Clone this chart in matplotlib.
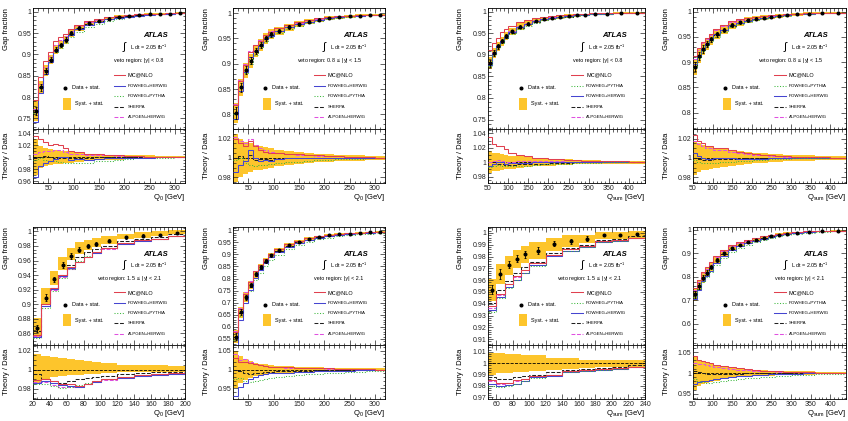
import numpy as np
import matplotlib
matplotlib.use("Agg")
import matplotlib.pyplot as plt
from matplotlib.patches import Rectangle
from matplotlib.ticker import MultipleLocator, AutoMinorLocator, FuncFormatter

plt.rcParams['font.family'] = ['Liberation Sans', 'DejaVu Sans']
plt.rcParams['mathtext.fontset'] = 'custom'
plt.rcParams['mathtext.rm'] = 'Liberation Sans'
plt.rcParams['mathtext.it'] = 'Liberation Sans:italic'

# ---- bin edges ----
q0_edges = [20, 30, 40, 50, 60, 70, 80, 90, 100, 120, 140, 160, 180, 200, 220, 240, 260, 280, 300, 320]
q0_fwd_edges = [20, 30, 40, 50, 60, 70, 80, 90, 100, 120, 140, 160, 180, 200]
qsum_edges = [50, 60, 70, 80, 90, 100, 120, 140, 160, 180, 200, 220, 240, 260, 280, 300, 330, 360, 400, 440]
qsum_fwd_edges = [50, 60, 70, 80, 90, 100, 120, 140, 160, 180, 200, 220, 240]

# ---- Q0, |y| < 0.8 ----
q0_cen_data = [0.767, 0.823, 0.862, 0.888, 0.911, 0.922, 0.935, 0.950, 0.962, 0.973, 0.979, 0.984, 0.988, 0.990, 0.992, 0.994, 0.995, 0.996, 0.997]
q0_cen_stat = [0.010, 0.008, 0.007, 0.006, 0.006, 0.005, 0.005, 0.005, 0.004, 0.003, 0.003, 0.003, 0.002, 0.002, 0.002, 0.002, 0.002, 0.001, 0.001]
q0_cen_syst = [0.030, 0.018, 0.015, 0.013, 0.012, 0.011, 0.010, 0.009, 0.008, 0.006, 0.005, 0.004, 0.004, 0.003, 0.003, 0.003, 0.002, 0.002, 0.002]
q0_cen_mcnlo = [1.035, 1.030, 1.025, 1.020, 1.022, 1.020, 1.015, 1.010, 1.008, 1.006, 1.005, 1.004, 1.003, 1.002, 1.002, 1.001, 1.001, 1.001, 1.000]
q0_cen_powher = [0.967, 0.985, 0.990, 0.993, 0.997, 1.000, 1.000, 0.996, 0.997, 0.996, 0.997, 0.998, 0.998, 0.999, 0.999, 0.999, 1.000, 1.000, 1.000]
q0_cen_powpyt = [0.995, 0.998, 0.996, 0.994, 0.993, 0.992, 0.991, 0.990, 0.990, 0.991, 0.993, 0.994, 0.996, 0.997, 0.998, 0.998, 0.999, 0.999, 1.000]
q0_cen_sherpa = [0.998, 1.000, 1.002, 1.000, 0.999, 0.999, 0.998, 0.998, 0.999, 0.999, 1.000, 1.000, 1.000, 1.000, 1.000, 1.000, 1.000, 1.000, 1.000]
q0_cen_alpgen = [1.005, 1.008, 1.010, 1.010, 1.012, 1.012, 1.008, 1.006, 1.005, 1.004, 1.003, 1.003, 1.002, 1.002, 1.001, 1.001, 1.001, 1.000, 1.000]

# ---- Q0, 0.8 <= |y| < 1.5 ----
q0_mid_data = [0.803, 0.853, 0.887, 0.906, 0.925, 0.937, 0.950, 0.958, 0.965, 0.972, 0.978, 0.983, 0.987, 0.990, 0.992, 0.994, 0.995, 0.996, 0.997]
q0_mid_stat = [0.012, 0.009, 0.008, 0.007, 0.006, 0.006, 0.005, 0.005, 0.004, 0.004, 0.003, 0.003, 0.003, 0.002, 0.002, 0.002, 0.002, 0.002, 0.001]
q0_mid_syst = [0.025, 0.020, 0.017, 0.015, 0.013, 0.012, 0.011, 0.010, 0.008, 0.007, 0.006, 0.005, 0.004, 0.004, 0.003, 0.003, 0.003, 0.002, 0.002]
q0_mid_mcnlo = [1.020, 1.015, 1.012, 1.018, 1.012, 1.008, 1.006, 1.005, 1.005, 1.004, 1.004, 1.003, 1.003, 1.002, 1.002, 1.001, 1.001, 1.001, 1.000]
q0_mid_powher = [0.985, 0.993, 0.997, 1.008, 1.000, 0.997, 0.998, 0.997, 0.999, 1.000, 1.000, 1.000, 1.000, 1.000, 1.000, 1.000, 1.000, 1.000, 1.000]
q0_mid_powpyt = [0.998, 1.000, 0.995, 0.993, 0.992, 0.993, 0.993, 0.994, 0.995, 0.996, 0.996, 0.997, 0.998, 0.998, 0.999, 0.999, 0.999, 1.000, 1.000]
q0_mid_sherpa = [1.000, 1.002, 1.000, 1.003, 0.998, 0.999, 0.999, 0.998, 0.999, 1.000, 1.000, 1.000, 1.000, 1.000, 1.000, 1.000, 1.000, 1.000, 1.000]
q0_mid_alpgen = [1.022, 1.018, 1.015, 1.020, 1.013, 1.010, 1.008, 1.006, 1.005, 1.004, 1.003, 1.003, 1.002, 1.002, 1.002, 1.001, 1.001, 1.001, 1.000]

# ---- Qsum, |y| < 0.8 ----
qsum_cen_data = [0.881, 0.904, 0.920, 0.932, 0.944, 0.955, 0.966, 0.973, 0.979, 0.983, 0.986, 0.988, 0.990, 0.992, 0.993, 0.995, 0.996, 0.997, 0.998]
qsum_cen_stat = [0.008, 0.007, 0.006, 0.005, 0.005, 0.004, 0.004, 0.003, 0.003, 0.003, 0.002, 0.002, 0.002, 0.002, 0.002, 0.001, 0.001, 0.001, 0.001]
qsum_cen_syst = [0.015, 0.013, 0.012, 0.011, 0.010, 0.009, 0.008, 0.007, 0.006, 0.005, 0.005, 0.004, 0.004, 0.003, 0.003, 0.003, 0.002, 0.002, 0.002]
qsum_cen_mcnlo = [1.035, 1.025, 1.022, 1.022, 1.018, 1.012, 1.010, 1.008, 1.006, 1.006, 1.005, 1.004, 1.003, 1.003, 1.002, 1.002, 1.001, 1.001, 1.000]
qsum_cen_powher = [0.995, 0.997, 1.000, 1.000, 0.998, 0.999, 0.999, 0.999, 1.000, 1.000, 1.000, 1.000, 1.000, 1.000, 1.000, 1.000, 1.000, 1.000, 1.000]
qsum_cen_powpyt = [0.993, 0.995, 0.996, 0.995, 0.994, 0.994, 0.994, 0.995, 0.996, 0.997, 0.997, 0.998, 0.998, 0.999, 0.999, 0.999, 1.000, 1.000, 1.000]
qsum_cen_sherpa = [0.995, 0.997, 0.998, 0.997, 0.996, 0.996, 0.997, 0.998, 0.998, 0.998, 0.999, 0.999, 0.999, 1.000, 1.000, 1.000, 1.000, 1.000, 1.000]
qsum_cen_alpgen = [1.000, 1.002, 1.003, 1.001, 1.000, 1.000, 1.001, 1.001, 1.001, 1.001, 1.001, 1.001, 1.000, 1.000, 1.000, 1.000, 1.000, 1.000, 1.000]

# ---- Qsum, 0.8 <= |y| < 1.5 ----
qsum_mid_data = [0.891, 0.912, 0.926, 0.936, 0.945, 0.955, 0.964, 0.973, 0.979, 0.983, 0.986, 0.988, 0.990, 0.992, 0.993, 0.995, 0.996, 0.997, 0.998]
qsum_mid_stat = [0.009, 0.008, 0.007, 0.006, 0.005, 0.005, 0.004, 0.004, 0.003, 0.003, 0.003, 0.002, 0.002, 0.002, 0.002, 0.002, 0.001, 0.001, 0.001]
qsum_mid_syst = [0.018, 0.015, 0.013, 0.012, 0.011, 0.010, 0.009, 0.008, 0.007, 0.006, 0.005, 0.005, 0.004, 0.004, 0.003, 0.003, 0.003, 0.002, 0.002]
qsum_mid_mcnlo = [1.024, 1.018, 1.015, 1.012, 1.012, 1.010, 1.010, 1.008, 1.006, 1.005, 1.004, 1.003, 1.003, 1.002, 1.002, 1.001, 1.001, 1.001, 1.000]
qsum_mid_powher = [1.005, 1.002, 1.000, 0.999, 0.999, 1.000, 1.000, 1.000, 0.999, 0.999, 0.999, 0.999, 1.000, 1.000, 1.000, 1.000, 1.000, 1.000, 1.000]
qsum_mid_powpyt = [0.998, 0.996, 0.995, 0.995, 0.995, 0.995, 0.996, 0.996, 0.997, 0.997, 0.998, 0.998, 0.999, 0.999, 0.999, 1.000, 1.000, 1.000, 1.000]
qsum_mid_sherpa = [1.000, 0.999, 0.998, 0.998, 0.998, 0.999, 0.999, 0.999, 0.999, 1.000, 1.000, 1.000, 1.000, 1.000, 1.000, 1.000, 1.000, 1.000, 1.000]
qsum_mid_alpgen = [1.018, 1.014, 1.012, 1.010, 1.010, 1.008, 1.008, 1.006, 1.005, 1.004, 1.003, 1.003, 1.002, 1.002, 1.001, 1.001, 1.001, 1.001, 1.000]

# ---- Q0, 1.5 <= |y| < 2.1 ----
q0_fwd_data = [0.867, 0.909, 0.934, 0.954, 0.966, 0.975, 0.980, 0.983, 0.987, 0.992, 0.994, 0.995, 0.998]
q0_fwd_stat = [0.005, 0.005, 0.004, 0.004, 0.004, 0.003, 0.003, 0.003, 0.002, 0.002, 0.002, 0.002, 0.001]
q0_fwd_syst_up = [0.017, 0.014, 0.013, 0.012, 0.011, 0.010, 0.009, 0.008, 0.007, 0.005, 0.005, 0.005, 0.004]
q0_fwd_syst_dn = [0.015, 0.010, 0.008, 0.007, 0.006, 0.006, 0.005, 0.005, 0.004, 0.003, 0.003, 0.002, 0.002]
q0_fwd_mcnlo = [0.989, 0.990, 0.988, 0.985, 0.985, 0.983, 0.985, 0.988, 0.990, 0.992, 0.994, 0.995, 0.996]
q0_fwd_powher = [0.986, 0.988, 0.986, 0.984, 0.983, 0.982, 0.985, 0.987, 0.990, 0.991, 0.993, 0.994, 0.995]
q0_fwd_powpyt = [0.985, 0.985, 0.983, 0.981, 0.982, 0.984, 0.986, 0.988, 0.990, 0.992, 0.994, 0.995, 0.996]
q0_fwd_sherpa = [0.995, 0.990, 0.988, 0.986, 0.988, 0.990, 0.991, 0.992, 0.993, 0.995, 0.996, 0.997, 0.998]
q0_fwd_alpgen = [0.987, 0.987, 0.984, 0.982, 0.982, 0.982, 0.985, 0.987, 0.989, 0.991, 0.993, 0.994, 0.995]

# ---- Q0, |y| < 2.1 ----
q0_all_data = [0.560, 0.660, 0.722, 0.773, 0.818, 0.847, 0.873, 0.896, 0.917, 0.938, 0.952, 0.963, 0.972, 0.978, 0.982, 0.986, 0.989, 0.991, 0.993]
q0_all_stat = [0.014, 0.012, 0.011, 0.010, 0.009, 0.008, 0.007, 0.007, 0.006, 0.005, 0.004, 0.004, 0.003, 0.003, 0.003, 0.002, 0.002, 0.002, 0.002]
q0_all_syst = [0.050, 0.035, 0.028, 0.022, 0.018, 0.016, 0.014, 0.012, 0.010, 0.009, 0.008, 0.007, 0.006, 0.005, 0.005, 0.004, 0.004, 0.003, 0.003]
q0_all_mcnlo = [1.030, 1.020, 1.020, 1.018, 1.015, 1.012, 1.010, 1.008, 1.007, 1.006, 1.005, 1.004, 1.003, 1.003, 1.002, 1.002, 1.001, 1.001, 1.000]
q0_all_powher = [0.930, 0.955, 0.965, 0.975, 0.980, 0.985, 0.988, 0.990, 0.990, 0.991, 0.993, 0.994, 0.995, 0.996, 0.997, 0.997, 0.998, 0.998, 0.999]
q0_all_powpyt = [0.975, 0.978, 0.970, 0.968, 0.970, 0.972, 0.975, 0.978, 0.980, 0.983, 0.985, 0.987, 0.989, 0.990, 0.992, 0.993, 0.994, 0.995, 0.996]
q0_all_sherpa = [1.000, 0.995, 0.990, 0.988, 0.990, 0.992, 0.993, 0.994, 0.995, 0.996, 0.997, 0.997, 0.998, 0.998, 0.999, 0.999, 0.999, 1.000, 1.000]
q0_all_alpgen = [1.040, 1.025, 1.028, 1.020, 1.015, 1.012, 1.010, 1.008, 1.007, 1.005, 1.004, 1.004, 1.003, 1.002, 1.002, 1.002, 1.001, 1.001, 1.000]

# ---- Qsum, 1.5 <= |y| < 2.1 ----
qsum_fwd_data = [0.952, 0.965, 0.973, 0.978, 0.982, 0.985, 0.991, 0.993, 0.995, 0.998, 0.998, 0.999]
qsum_fwd_stat = [0.004, 0.004, 0.003, 0.003, 0.003, 0.003, 0.002, 0.002, 0.002, 0.001, 0.001, 0.001]
qsum_fwd_syst_up = [0.009, 0.009, 0.008, 0.008, 0.007, 0.007, 0.005, 0.005, 0.003, 0.003, 0.003, 0.003]
qsum_fwd_syst_dn = [0.010, 0.009, 0.009, 0.008, 0.008, 0.007, 0.006, 0.005, 0.004, 0.003, 0.003, 0.003]
qsum_fwd_mcnlo = [0.985, 0.983, 0.983, 0.985, 0.986, 0.989, 0.990, 0.993, 0.994, 0.995, 0.996, 0.997]
qsum_fwd_powher = [0.982, 0.980, 0.981, 0.982, 0.984, 0.988, 0.989, 0.992, 0.993, 0.994, 0.995, 0.997]
qsum_fwd_powpyt = [0.980, 0.979, 0.980, 0.982, 0.984, 0.987, 0.990, 0.992, 0.993, 0.994, 0.995, 0.997]
qsum_fwd_sherpa = [0.988, 0.986, 0.986, 0.988, 0.989, 0.990, 0.992, 0.994, 0.995, 0.996, 0.997, 0.998]
qsum_fwd_alpgen = [0.984, 0.982, 0.983, 0.984, 0.986, 0.989, 0.990, 0.993, 0.994, 0.995, 0.996, 0.997]

# ---- Qsum, |y| < 2.1 ----
qsum_all_data = [0.725, 0.762, 0.797, 0.818, 0.840, 0.870, 0.899, 0.920, 0.936, 0.947, 0.957, 0.966, 0.973, 0.979, 0.983, 0.987, 0.990, 0.993, 0.995]
qsum_all_stat = [0.013, 0.012, 0.011, 0.010, 0.009, 0.008, 0.007, 0.006, 0.005, 0.005, 0.004, 0.004, 0.003, 0.003, 0.003, 0.002, 0.002, 0.002, 0.002]
qsum_all_syst = [0.040, 0.030, 0.027, 0.024, 0.021, 0.018, 0.015, 0.012, 0.010, 0.009, 0.008, 0.007, 0.006, 0.005, 0.005, 0.004, 0.004, 0.003, 0.003]
qsum_all_mcnlo = [1.040, 1.030, 1.028, 1.027, 1.025, 1.020, 1.018, 1.015, 1.012, 1.010, 1.008, 1.006, 1.005, 1.004, 1.003, 1.002, 1.002, 1.001, 1.001]
qsum_all_powher = [0.975, 0.978, 0.980, 0.982, 0.984, 0.986, 0.989, 0.991, 0.993, 0.994, 0.995, 0.996, 0.997, 0.997, 0.998, 0.998, 0.999, 0.999, 1.000]
qsum_all_powpyt = [0.985, 0.980, 0.978, 0.977, 0.977, 0.978, 0.980, 0.983, 0.985, 0.987, 0.989, 0.990, 0.991, 0.993, 0.994, 0.995, 0.996, 0.997, 0.998]
qsum_all_sherpa = [1.005, 1.002, 1.000, 0.998, 0.997, 0.997, 0.998, 0.998, 0.998, 0.999, 0.999, 0.999, 1.000, 1.000, 1.000, 1.000, 1.000, 1.000, 1.000]
qsum_all_alpgen = [1.025, 1.022, 1.022, 1.020, 1.018, 1.015, 1.012, 1.010, 1.008, 1.007, 1.006, 1.005, 1.004, 1.003, 1.003, 1.002, 1.002, 1.001, 1.001]

BAND = '#fdc52c'
STYLE = {
    'mcnlo':  dict(color='#e0404f', ls='-',  label='MC@NLO', caps=False),
    'powher': dict(color='#4545d0', ls='-',  label='POWHEG+HERWIG', caps=True),
    'powpyt': dict(color='#3cb83c', ls=':',  label='POWHEG+PYTHIA', caps=True),
    'sherpa': dict(color='#202020', ls='--', label='SHERPA', caps=True),
    'alpgen': dict(color='#e050e0', ls='--', label='ALPGEN+HERWIG', caps=True),
}
ORDER_A = ['mcnlo', 'powher', 'powpyt', 'sherpa', 'alpgen']
ORDER_B = ['mcnlo', 'powpyt', 'powher', 'sherpa', 'alpgen']

W, H = 848.0, 421.0
fig = plt.figure(figsize=(W / 100, H / 100), dpi=100)


def px_axes(x0, x1, y0, y1):
    # pixel box (top-left origin) -> figure fraction
    return fig.add_axes([x0 / W, 1 - y1 / H, (x1 - x0) / W, (y1 - y0) / H])


def close_steps(v):
    v = np.asarray(v, float)
    return np.append(v, v[-1])


def style_axis(ax, xmaj, xsub, ymaj, ysub):
    ax.xaxis.set_major_locator(MultipleLocator(xmaj))
    ax.xaxis.set_minor_locator(AutoMinorLocator(xsub))
    ax.yaxis.set_major_locator(MultipleLocator(ymaj))
    ax.yaxis.set_minor_locator(AutoMinorLocator(ysub))
    ax.yaxis.set_major_formatter(FuncFormatter(lambda v, p: f'{round(v, 4):g}'))
    ax.xaxis.set_major_formatter(FuncFormatter(lambda v, p: f'{round(v, 4):g}'))
    ax.tick_params(which='both', direction='in', top=True, right=True,
                   labelsize=5, width=0.5, pad=1.2, colors='#222222')
    ax.tick_params(which='major', length=3.5)
    ax.tick_params(which='minor', length=1.8)
    for sp in ax.spines.values():
        sp.set_linewidth(0.6)


def draw_panel(xr, rows, edges, data, stat, s_up, s_dn, models, order, veto,
               xname, ylim, rlim, ymaj, ysub, rmaj, rsub, xmaj, xsub):
    top, mid, bot = rows
    ax = px_axes(xr[0], xr[1], top, mid)
    rx = px_axes(xr[0], xr[1], mid, bot)
    edges = np.asarray(edges, float)
    data = np.asarray(data, float)
    up = np.asarray(s_up, float)
    dn = np.asarray(s_dn, float)
    centres = 0.5 * (edges[:-1] + edges[1:])

    # main panel: syst band, model predictions, data
    ax.fill_between(edges, close_steps(data * (1 - dn)), close_steps(data * (1 + up)),
                    step='post', color=BAND, lw=0, zorder=1)
    for key in reversed(order):
        st = STYLE[key]
        ax.stairs(data * np.asarray(models[key]), edges, baseline=None,
                  color=st['color'], ls=st['ls'], lw=0.75, zorder=3)
    ax.errorbar(centres, data, yerr=stat, fmt='o', ms=1.9, color='k',
                elinewidth=0.6, capsize=1.0, capthick=0.6, zorder=5)

    # ratio panel
    rx.fill_between(edges, close_steps(1 - dn), close_steps(1 + up),
                    step='post', color=BAND, lw=0, zorder=1)
    rx.axhline(1.0, color='k', ls='--', lw=0.6, zorder=2)
    for key in reversed(order):
        st = STYLE[key]
        rx.stairs(models[key], edges, baseline=None,
                  color=st['color'], ls=st['ls'], lw=0.75, zorder=3)

    for a in (ax, rx):
        a.set_xlim(edges[0], edges[-1])
    ax.set_ylim(*ylim)
    rx.set_ylim(*rlim)
    style_axis(ax, xmaj, xsub, ymaj, ysub)
    style_axis(rx, xmaj, xsub, rmaj, rsub)
    ax.tick_params(labelbottom=False)

    ax.set_ylabel('Gap fraction', fontsize=5.5, loc='top')
    rx.set_ylabel('Theory / Data', fontsize=5.5)
    ax.yaxis.set_label_coords(-0.15, 1.0)
    rx.yaxis.set_label_coords(-0.15, 0.5)
    rx.set_xlabel(xname + ' [GeV]', fontsize=5.5, loc='right', labelpad=0.5)

    # labels and legend keys
    ax.text(0.885, 0.77, 'ATLAS', transform=ax.transAxes, ha='right', va='center',
            fontsize=5.5, fontweight='bold', fontstyle='italic')
    ax.text(0.605, 0.675, r'$\int$', transform=ax.transAxes, ha='center', va='center',
            fontsize=8)
    ax.text(0.64, 0.675, r'L dt = 2.05 fb$^{-1}$', transform=ax.transAxes,
            ha='left', va='center', fontsize=3.9)
    ax.text(0.855, 0.565, 'veto region: ' + veto, transform=ax.transAxes,
            ha='right', va='center', fontsize=3.9)

    ax.plot([0.21], [0.34], 'o', ms=1.9, color='k', transform=ax.transAxes)
    ax.text(0.255, 0.34, 'Data + stat.', transform=ax.transAxes, va='center', fontsize=4.0)
    ax.add_patch(Rectangle((0.195, 0.16), 0.055, 0.10, transform=ax.transAxes,
                           color=BAND, lw=0))
    ax.text(0.275, 0.21, 'Syst. + stat.', transform=ax.transAxes, va='center', fontsize=4.0)

    for i, key in enumerate(order):
        st = STYLE[key]
        yy = 0.445 - i * 0.087
        ax.plot([0.53, 0.605], [yy, yy], color=st['color'], ls=st['ls'], lw=0.75,
                transform=ax.transAxes)
        ax.text(0.625, yy, st['label'], transform=ax.transAxes, va='center',
                fontsize=3.2 if st['caps'] else 4.0)
    return ax, rx


def models_of(prefix):
    g = globals()
    return {k: g[prefix + '_' + k] for k in STYLE}


TOP = (8, 129, 183)
BOT = (227, 345, 399)
Q0 = r'Q$_0$'
QS = r'Q$_{\rm sum}$'

draw_panel((33, 185), TOP, q0_edges, q0_cen_data, q0_cen_stat, q0_cen_syst, q0_cen_syst,
           models_of('q0_cen'), ORDER_A, r'|y| < 0.8', Q0,
           (0.725, 1.009), (0.957, 1.047), 0.05, 5, 0.02, 4, 50, 5)
draw_panel((233, 385), TOP, q0_edges, q0_mid_data, q0_mid_stat, q0_mid_syst, q0_mid_syst,
           models_of('q0_mid'), ORDER_A, r'0.8 $\leq$ |y| < 1.5', Q0,
           (0.771, 1.01), (0.974, 1.03), 0.05, 5, 0.02, 4, 50, 5)
draw_panel((488, 645), TOP, qsum_edges, qsum_cen_data, qsum_cen_stat, qsum_cen_syst, qsum_cen_syst,
           models_of('qsum_cen'), ORDER_B, r'|y| < 0.8', QS,
           (0.728, 1.009), (0.971, 1.046), 0.05, 5, 0.02, 4, 50, 5)
draw_panel((693, 846), TOP, qsum_edges, qsum_mid_data, qsum_mid_stat, qsum_mid_syst, qsum_mid_syst,
           models_of('qsum_mid'), ORDER_B, r'0.8 $\leq$ |y| < 1.5', QS,
           (0.768, 1.007), (0.974, 1.03), 0.05, 5, 0.02, 4, 50, 5)

draw_panel((33, 185), BOT, q0_fwd_edges, q0_fwd_data, q0_fwd_stat, q0_fwd_syst_up, q0_fwd_syst_dn,
           models_of('q0_fwd'), ORDER_A, r'1.5 $\leq$ |y| < 2.1', Q0,
           (0.844, 1.006), (0.969, 1.026), 0.02, 4, 0.02, 4, 20, 4)
draw_panel((233, 385), BOT, q0_edges, q0_all_data, q0_all_stat, q0_all_syst, q0_all_syst,
           models_of('q0_all'), ORDER_A, r'|y| < 2.1', Q0,
           (0.525, 1.013), (0.922, 1.065), 0.05, 5, 0.05, 5, 50, 5)
draw_panel((488, 645), BOT, qsum_fwd_edges, qsum_fwd_data, qsum_fwd_stat, qsum_fwd_syst_up, qsum_fwd_syst_dn,
           models_of('qsum_fwd'), ORDER_B, r'1.5 $\leq$ |y| < 2.1', QS,
           (0.905, 1.005), (0.9685, 1.016), 0.01, 5, 0.01, 5, 20, 4)
draw_panel((693, 846), BOT, qsum_edges, qsum_all_data, qsum_all_stat, qsum_all_syst, qsum_all_syst,
           models_of('qsum_all'), ORDER_B, r'|y| < 2.1', QS,
           (0.511, 1.011), (0.938, 1.067), 0.1, 5, 0.05, 5, 50, 5)

fig.savefig('out.png', dpi=100)
